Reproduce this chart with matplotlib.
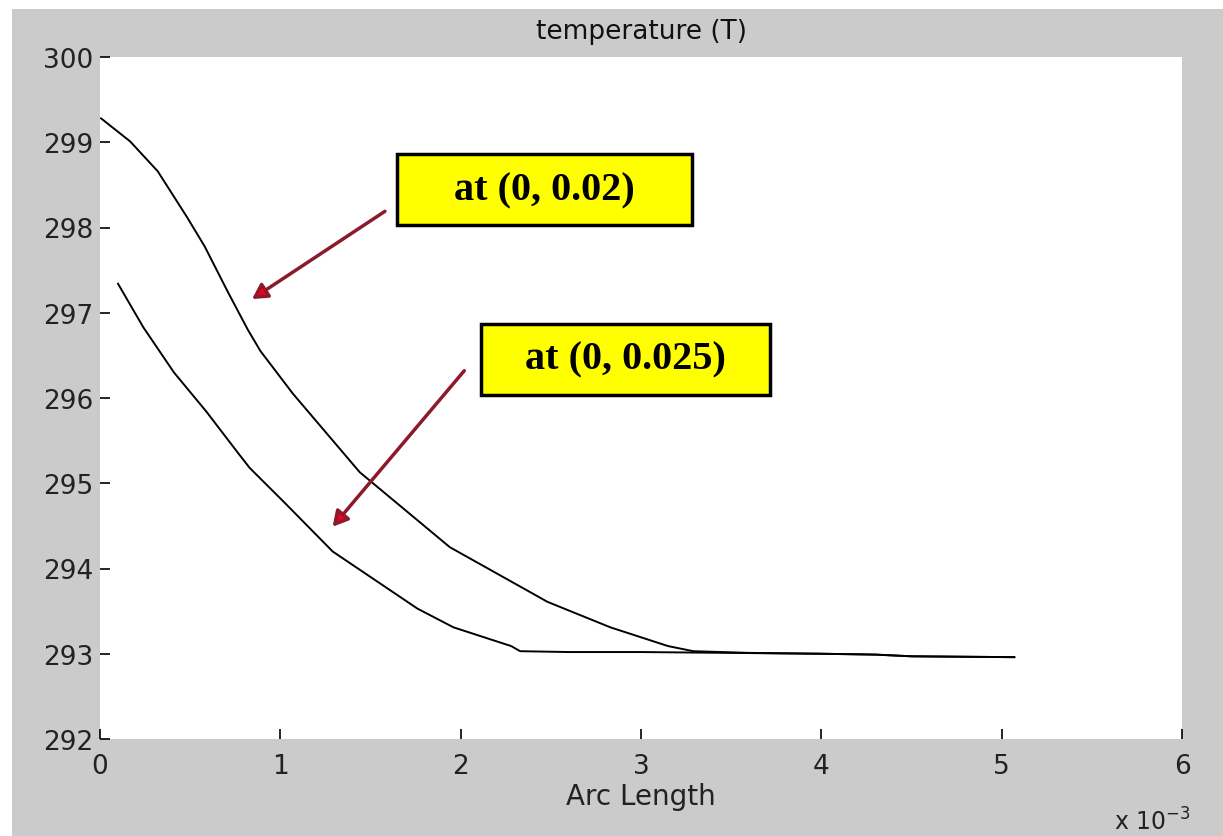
import numpy as np
import matplotlib.pyplot as plt
from matplotlib.patches import Rectangle

# arc length in units of 1e-3
x_02 = [0.006, 0.167, 0.32, 0.48, 0.58, 0.71, 0.82, 0.89, 1.07, 1.44, 1.94,
        2.43, 2.48, 2.83, 3.15, 3.29, 3.6, 4.0, 4.3, 4.5, 5.07]
t_02 = [299.28, 299.01, 298.66, 298.13, 297.78, 297.24, 296.80, 296.55, 296.05,
        295.13, 294.25, 293.67, 293.61, 293.31, 293.09, 293.03, 293.01,
        293.0, 292.99, 292.97, 292.96]

x_025 = [0.10, 0.24, 0.41, 0.59, 0.76, 0.83, 1.02, 1.29, 1.76, 1.96, 2.28, 2.33,
         2.6, 3.0, 3.5, 4.0, 4.3, 4.5, 5.07]
t_025 = [297.34, 296.83, 296.30, 295.84, 295.37, 295.18, 294.78, 294.20, 293.53,
         293.31, 293.09, 293.03, 293.02, 293.02, 293.01, 293.0, 292.99, 292.97, 292.96]

xticks = [0, 1, 2, 3, 4, 5, 6]
yticks = [292, 293, 294, 295, 296, 297, 298, 299, 300]

labels = ["at (0, 0.02)", "at (0, 0.025)"]

gray = "#cbcbcb"
fig = plt.figure(figsize=(12.23, 8.37), dpi=100, facecolor=gray)
# white outer margin on top/left like the scanned screenshot
fig.patches.append(Rectangle((0, 1 - 10 / 837), 1, 10 / 837, transform=fig.transFigure,
                             facecolor="white", edgecolor="none", zorder=-1))
fig.patches.append(Rectangle((0, 0), 12 / 1223, 1, transform=fig.transFigure,
                             facecolor="white", edgecolor="none", zorder=-1))

ax = fig.add_axes([100 / 1223, 1 - 740 / 837, 1082 / 1223, 682 / 837])
ax.set_facecolor("white")
for s in ax.spines.values():
    s.set_visible(False)

ax.plot(x_02, t_02, color="black", lw=1.4)
ax.plot(x_025, t_025, color="black", lw=1.4)

ax.set_xlim(0, 6)
ax.set_ylim(292, 300)
ax.set_xticks(xticks)
ax.set_yticks(yticks)
ax.tick_params(direction="in", length=7, width=1.2, colors="black",
               labelcolor="#222222", labelsize=19, pad=5)
ax.tick_params(axis="x", pad=10)

ax.set_title("temperature (T)", fontsize=19, color="#111111", pad=14)
ax.set_xlabel("Arc Length", fontsize=20, color="#222222", labelpad=2)
ax.text(1.008, -0.1, r"x 10$^{-3}$", transform=ax.transAxes, ha="right", va="top",
        fontsize=17, color="#222222")

# annotation boxes
boxes = [(1.647, 298.03, 1.636, 0.83), (2.113, 296.04, 1.603, 0.83)]
for (bx, by, bw, bh), lab in zip(boxes, labels):
    ax.add_patch(Rectangle((bx, by), bw, bh, facecolor="#ffff00", edgecolor="black",
                           lw=2.5, zorder=4))
    ax.text(bx + bw / 2, by + bh / 2, lab, ha="center", va="center", fontsize=29,
            fontweight="bold", family="Liberation Serif", color="black", zorder=5)

arrows = [((1.58, 298.19), (0.843, 297.16)), ((2.02, 296.32), (1.29, 294.49))]
for tail, head in arrows:
    ax.annotate("", xy=head, xytext=tail,
                arrowprops=dict(arrowstyle="-|>,head_length=0.9,head_width=0.5",
                                fc="#f0001a", ec="#8c1a2c", lw=2.5,
                                shrinkA=0, shrinkB=0), zorder=3)

fig.savefig("out.png", dpi=100, facecolor=gray)
